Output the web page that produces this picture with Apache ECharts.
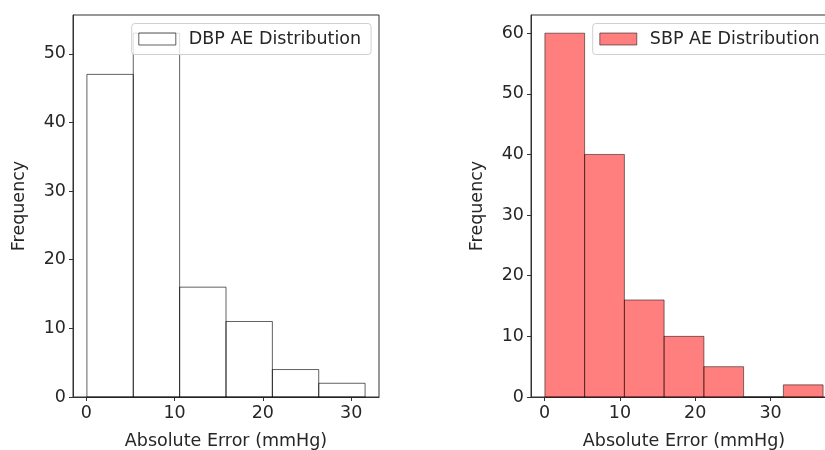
<!DOCTYPE html>
<html>
<head>
<meta charset="utf-8">
<script src="https://cdn.jsdelivr.net/npm/echarts@6/dist/echarts.min.js"></script>
<style>
html,body{margin:0;padding:0;background:#fff;}
#chart{width:825px;height:450px;}
</style>
</head>
<body>
<div id="chart"></div>
<script>
// ---- data ----
const dbpName = 'DBP AE Distribution';
const sbpName = 'SBP AE Distribution';
const dbpEdges = [0.08, 5.33, 10.58, 15.83, 21.08, 26.33, 31.58];
const dbpCounts = [47, 53, 16, 11, 4, 2];
const sbpEdges = [0.05, 5.32, 10.6, 15.87, 21.15, 26.42, 31.7, 36.97];
const sbpCounts = [60, 40, 16, 10, 5, 0, 2];
const xTicks = [0, 10, 20, 30];
const dbpYTicks = [0, 10, 20, 30, 40, 50];
const sbpYTicks = [0, 10, 20, 30, 40, 50, 60];
const xLabel = 'Absolute Error (mmHg)';
const yLabel = 'Frequency';

// ---- build ----
function binsData(edges, counts) {
  return counts.map((c, i) => [edges[i], edges[i + 1], c]);
}
function margins(lo, hi) {
  const r = hi - lo;
  return [lo - 0.05 * r, hi + 0.05 * r];
}
const dbpX = margins(dbpEdges[0], dbpEdges[dbpEdges.length - 1]);
const sbpX = margins(sbpEdges[0], sbpEdges[sbpEdges.length - 1]);
const dbpYMax = Math.max(...dbpCounts) * 1.05;
const sbpYMax = Math.max(...sbpCounts) * 1.05;

const FONT = 'DejaVu Sans';
const TXT = '#262626';
const FS = 17.5;

function renderBar(params, api) {
  const p0 = api.coord([api.value(0), api.value(2)]);
  const p1 = api.coord([api.value(1), 0]);
  return {
    type: 'rect',
    shape: { x: p0[0], y: p0[1], width: p1[0] - p0[0], height: p1[1] - p0[1] },
    style: api.style()
  };
}

function xAxisOf(idx, ext) {
  return {
    type: 'value', gridIndex: idx, min: ext[0], max: ext[1],
    name: xLabel, nameLocation: 'middle', nameGap: 35,
    nameTextStyle: { fontFamily: FONT, fontSize: FS, color: TXT },
    axisLine: { show: true, onZero: false, lineStyle: { color: '#333', width: 1 } },
    axisTick: { show: true, inside: false, length: 4, customValues: xTicks, lineStyle: { color: '#333' } },
    axisLabel: { customValues: xTicks, margin: 7, fontFamily: FONT, fontSize: FS, color: TXT },
    splitLine: { show: false }
  };
}
function yAxisOf(idx, max, ticks) {
  return {
    type: 'value', gridIndex: idx, min: 0, max: max,
    name: yLabel, nameLocation: 'middle', nameGap: 45,
    nameTextStyle: { fontFamily: FONT, fontSize: FS, color: TXT },
    axisLine: { show: true, onZero: false, lineStyle: { color: '#333', width: 1 } },
    axisTick: { show: true, inside: false, length: 4, customValues: ticks, lineStyle: { color: '#333' } },
    axisLabel: { customValues: ticks, margin: 7, fontFamily: FONT, fontSize: FS, color: TXT },
    splitLine: { show: false }
  };
}
function legendOf(left, name, style) {
  return {
    left: left, top: 23.5, orient: 'vertical',
    padding: [5.5, 10, 5.5, 6.6],
    itemWidth: 37, itemHeight: 12,
    backgroundColor: 'rgba(255,255,255,0.8)',
    borderColor: '#d0d0d0', borderWidth: 1, borderRadius: 3,
    data: [{ name: name, icon: 'rect', itemStyle: style }],
    textStyle: { fontFamily: FONT, fontSize: FS, color: TXT, lineHeight: 20, padding: [0, 0, 0, 8] },
    selectedMode: false
  };
}

const dbpStyle = { color: 'rgba(255,255,255,0)', borderColor: 'rgba(0,0,0,0.62)', borderWidth: 1 };
const sbpStyle = { color: 'rgba(255,0,0,0.5)', borderColor: 'rgba(0,0,0,0.5)', borderWidth: 1 };

const option = {
  animation: false,
  backgroundColor: '#fff',
  grid: [
    { left: 73, top: 15, width: 306, height: 382, outerBoundsMode: 'none', containLabel: false,
      show: true, borderColor: '#333', borderWidth: 1, backgroundColor: 'transparent' },
    { left: 531, top: 15, width: 306, height: 382, outerBoundsMode: 'none', containLabel: false,
      show: true, borderColor: '#333', borderWidth: 1, backgroundColor: 'transparent' }
  ],
  xAxis: [xAxisOf(0, dbpX), xAxisOf(1, sbpX)],
  yAxis: [yAxisOf(0, dbpYMax, dbpYTicks), yAxisOf(1, sbpYMax, sbpYTicks)],
  legend: [legendOf(131.7, dbpName, dbpStyle), legendOf(592.7, sbpName, sbpStyle)],
  series: [
    { name: dbpName, type: 'custom', xAxisIndex: 0, yAxisIndex: 0,
      renderItem: renderBar, itemStyle: dbpStyle,
      encode: { x: [0, 1], y: 2 }, data: binsData(dbpEdges, dbpCounts) },
    { name: sbpName, type: 'custom', xAxisIndex: 1, yAxisIndex: 1,
      renderItem: renderBar, itemStyle: sbpStyle,
      encode: { x: [0, 1], y: 2 }, data: binsData(sbpEdges, sbpCounts) }
  ]
};

const chart = echarts.init(document.getElementById('chart'), null, { renderer: 'canvas' });
chart.setOption(option);
</script>
</body>
</html>
